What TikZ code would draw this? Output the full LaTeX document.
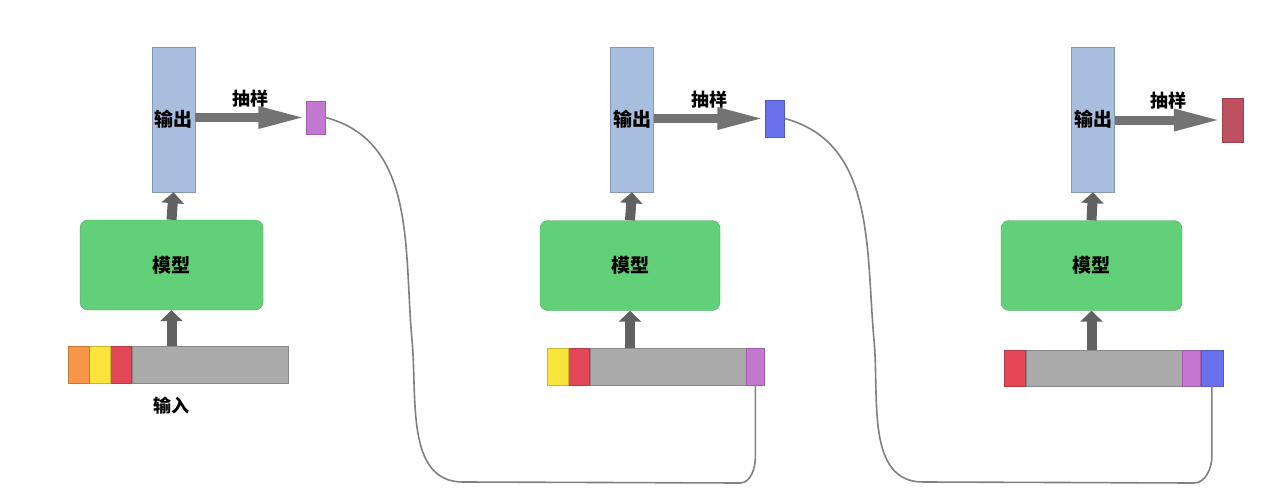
\documentclass[tikz,border=0pt]{standalone}
\usepackage{fontspec}
\newfontfamily\cjk{Noto Sans CJK SC}
\usetikzlibrary{arrows.meta,positioning}
\definecolor{outblue}{RGB}{168,190,222}
\definecolor{modgreen}{RGB}{98,208,120}
\definecolor{bargray}{RGB}{170,170,170}
\definecolor{corange}{RGB}{246,150,70}
\definecolor{cyellow}{RGB}{250,228,60}
\definecolor{cred}{RGB}{228,72,88}
\definecolor{cpurple}{RGB}{196,120,210}
\definecolor{cblue}{RGB}{104,112,236}
\definecolor{cdred}{RGB}{190,80,96}
\definecolor{wire}{RGB}{128,128,128}
\tikzset{
  outcol/.style={draw=outblue!80!black,fill=outblue,minimum width=43,minimum height=145,inner sep=0pt,font=\cjk\bfseries\fontsize{19}{22}\selectfont},
  modelbox/.style={draw=modgreen!80!black,fill=modgreen,rounded corners=8pt,minimum height=90,inner sep=0pt,font=\cjk\bfseries\fontsize{19}{22}\selectfont},
  inbar/.style={draw=bargray!80!black,fill=bargray,minimum width=156,minimum height=37,inner sep=0pt},
  cell/.style={draw=#1!80!black,fill=#1,minimum width=21,minimum height=37,inner sep=0pt},
  tok/.style={draw=#1!80!black,fill=#1,minimum width=19,inner sep=0pt},
  uparrow/.style={line width=10pt,draw=black!62,-{Triangle[length=11pt,width=22pt]}},
  samplearrow/.style={line width=9pt,draw=black!55,-{Triangle[length=48pt,width=20pt]}},
  lab/.style={font=\cjk\bfseries\fontsize{18}{21}\selectfont,inner sep=1pt},
  loop/.style={draw=wire,line width=1.6pt,rounded corners=2pt}
}
\begin{document}
\begin{tikzpicture}[x=1pt,y=-1pt]
\useasboundingbox[fill=white](0,0)rectangle(1270,503);
%第1步
\node[outcol](out1)at(173.5,119.5){输出};
\node[tok=cpurple,minimum height=33](s1)at(316,117.5){};
\node[modelbox,minimum width=183](m1)at(171.5,265){模型};
\node[inbar](in1)at(210,365){};
\node[cell=cred,left=0pt of in1](r1){};
\node[cell=cyellow,left=0pt of r1](y1){};
\node[cell=corange,left=0pt of y1](o1){};
\node[lab](lin1)at(171,406){输入};
\draw[uparrow](m1.north)--(out1.south);
\draw[uparrow](m1.south|-in1.north)--(m1.south);
\draw[samplearrow](out1.east|-s1.west)--(s1.west)node[lab,midway,above=5pt]{抽样};
%第2步
\node[outcol](out2)at(632,119.5){输出};
\node[tok=cblue,minimum height=37](s2)at(775,118.5){};
\node[modelbox,minimum width=180](m2)at(630,265.5){模型};
\node[inbar](in2)at(668,367){};
\node[cell=cred,left=0pt of in2](r2){};
\node[cell=cyellow,left=0pt of r2](y2){};
\node[cell=cpurple,right=0pt of in2,minimum width=18](p2){};
\draw[uparrow](m2.north)--(out2.south);
\draw[uparrow](m2.south|-in2.north)--(m2.south);
\draw[samplearrow](out2.east|-s2.west)--(s2.west)node[lab,midway,above=5pt]{抽样};
%第3步
\node[outcol](out3)at(1093,119.5){输出};
\node[tok=cdred,minimum height=44,minimum width=21](s3)at(1232.5,120){};
\node[modelbox,minimum width=181](m3)at(1091.5,265.5){模型};
\node[inbar,minimum height=36](in3)at(1104,368){};
\node[cell=cred,left=0pt of in3,minimum height=36](r3){};
\node[cell=cpurple,right=0pt of in3,minimum width=18,minimum height=36](p3){};
\node[cell=cblue,right=0pt of p3,minimum width=22,minimum height=36](b3){};
\draw[uparrow](m3.north)--(out3.south);
\draw[uparrow](m3.south|-in3.north)--(m3.south);
\draw[samplearrow](out3.east|-s3.west)--(s3.west)node[lab,midway,above=5pt]{抽样};
%反馈
\draw[loop](s1.east)to[out=-15,in=95](412,340)to[out=-85,in=180](465,482)--(738,483)to[out=0,in=-90](p2.south|-0,455)--(p2.south);
\draw[loop](s2.east)to[out=-15,in=95](874,340)to[out=-85,in=180](925,482)--(1192,483)to[out=0,in=-90](b3.south|-0,455)--(b3.south);
\end{tikzpicture}
\end{document}
